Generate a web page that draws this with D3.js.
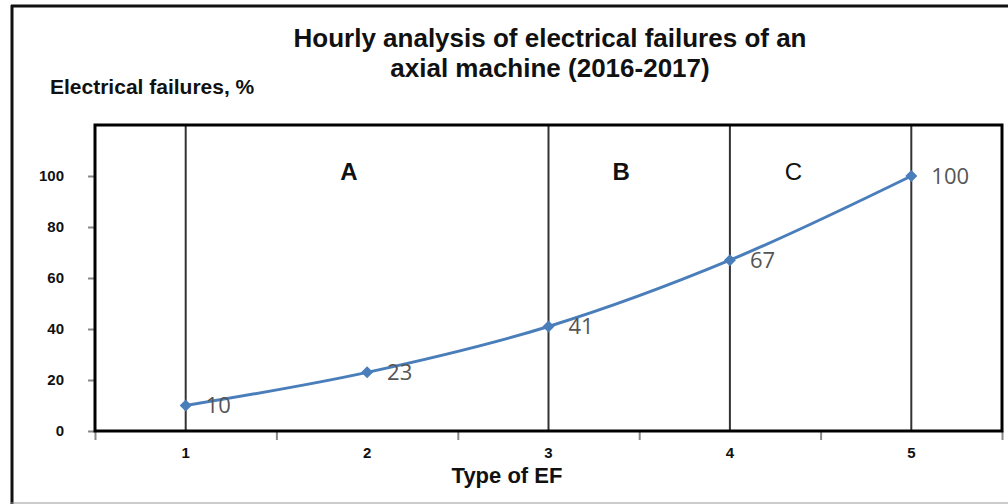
<!DOCTYPE html>
<html>
<head>
<meta charset="utf-8">
<script src="https://cdn.jsdelivr.net/npm/d3@7"></script>
<style>
  body { margin: 0; background: #fff; }
  svg { display: block; }
</style>
</head>
<body>
<div id="chart"></div>
<script>
// chart data
const types = [1, 2, 3, 4, 5];
const failures = [10, 23, 41, 67, 100];
const yTicks = [0, 20, 40, 60, 80, 100];
const dividers = [1, 3, 4, 5];
const zoneLabels = ['A', 'B', 'C'];
const zoneAt = [1.9, 3.4, 4.35];
const titleLines = ['Hourly analysis of electrical failures of an', 'axial machine (2016-2017)'];

const W = 1008, H = 504;
const plot = {left: 95, right: 1002, top: 125, bottom: 431};
const font = '"Liberation Sans", Arial, sans-serif';

const svg = d3.select('#chart').append('svg').attr('width', W).attr('height', H);

// outer frame
svg.append('line').attr('x1', 12).attr('x2', 12).attr('y1', 5).attr('y2', H)
  .attr('stroke', '#111').attr('stroke-width', 3);
svg.append('line').attr('x1', 11).attr('x2', W).attr('y1', 6).attr('y2', 6)
  .attr('stroke', '#111').attr('stroke-width', 3);
svg.append('line').attr('x1', 11).attr('x2', W).attr('y1', 503).attr('y2', 503)
  .attr('stroke', '#999').attr('stroke-width', 1);

const x = d3.scaleLinear().domain([0.5, 5.5]).range([plot.left, plot.right]);
const y = d3.scaleLinear().domain([0, 120]).range([plot.bottom, plot.top]);

// title
svg.append('g').selectAll('text').data(titleLines).join('text')
  .attr('x', 550).attr('y', (d, i) => 47 + i * 30)
  .attr('text-anchor', 'middle')
  .style('font', `bold 26px ${font}`).attr('fill', '#111')
  .text(d => d);

svg.append('text').attr('x', 50).attr('y', 94)
  .style('font', `bold 21px ${font}`).attr('fill', '#111')
  .text('Electrical failures, %');

// y ticks
const yAxis = svg.append('g').attr('transform', `translate(${plot.left},0)`)
  .call(d3.axisLeft(y).tickValues(yTicks).tickSize(7).tickPadding(24));
yAxis.select('.domain').remove();
yAxis.selectAll('line').attr('stroke', '#888').attr('stroke-width', 2);
yAxis.selectAll('text').style('font', `bold 15px ${font}`).attr('fill', '#111');

// x ticks (between categories) and labels
const xAxis = svg.append('g').attr('transform', `translate(0,${plot.bottom})`)
  .call(d3.axisBottom(x).tickValues(d3.range(0.5, 6, 1)).tickSize(9).tickFormat(''));
xAxis.select('.domain').remove();
xAxis.selectAll('line').attr('stroke', '#888').attr('stroke-width', 2);

svg.append('g').selectAll('text').data(types).join('text')
  .attr('x', d => x(d)).attr('y', 458)
  .attr('text-anchor', 'middle')
  .style('font', `bold 15px ${font}`).attr('fill', '#111')
  .text(d => d);

svg.append('text').attr('x', 507).attr('y', 483).attr('text-anchor', 'middle')
  .style('font', `bold 22px ${font}`).attr('fill', '#111')
  .text('Type of EF');

// zone dividers
svg.append('g').selectAll('line').data(dividers).join('line')
  .attr('x1', d => x(d)).attr('x2', d => x(d))
  .attr('y1', plot.top).attr('y2', plot.bottom)
  .attr('stroke', '#333').attr('stroke-width', 2);

svg.append('g').selectAll('text').data(zoneLabels).join('text')
  .attr('x', (d, i) => x(zoneAt[i])).attr('y', 180)
  .attr('text-anchor', 'middle')
  .style('font', (d, i) => `${i === 2 ? 'normal' : 'bold'} 24px ${font}`)
  .attr('fill', '#111')
  .text(d => d);

// plot border
svg.append('rect')
  .attr('x', plot.left).attr('y', plot.top)
  .attr('width', plot.right - plot.left).attr('height', plot.bottom - plot.top)
  .attr('fill', 'none').attr('stroke', '#000').attr('stroke-width', 3);

// series
const pts = types.map((t, i) => ({t, v: failures[i]}));
const line = d3.line().x(d => x(d.t)).y(d => y(d.v)).curve(d3.curveMonotoneX);

svg.append('path').datum(pts)
  .attr('d', line)
  .attr('fill', 'none').attr('stroke', '#4a7ebb').attr('stroke-width', 3);

svg.append('g').selectAll('path').data(pts).join('path')
  .attr('transform', d => `translate(${x(d.t)},${y(d.v)}) rotate(45)`)
  .attr('d', d3.symbol().type(d3.symbolSquare).size(72))
  .attr('fill', '#4a7ebb');

svg.append('g').selectAll('text').data(pts).join('text')
  .attr('x', d => x(d.t) + 20).attr('y', d => y(d.v) + 2)
  .attr('dominant-baseline', 'middle')
  .style('font', '22px "Open Sans", sans-serif').attr('fill', '#555')
  .text(d => d.v);
</script>
</body>
</html>
